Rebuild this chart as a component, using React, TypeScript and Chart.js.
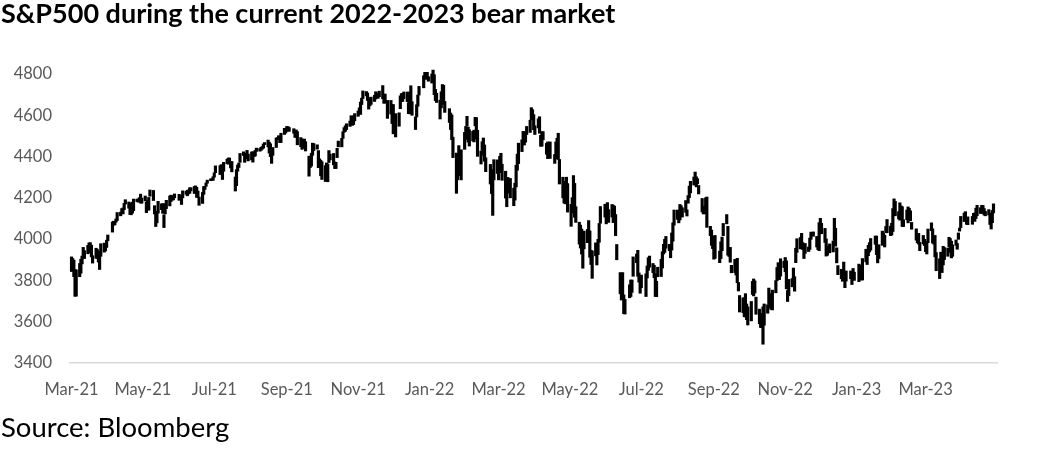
import React, { useEffect, useRef } from "react";
import { Chart, registerables } from "chart.js";

Chart.register(...registerables);

// [day of month, daily low, daily high]
type Bar = [number, number, number];

const mar21: Bar[] = [[1,3843,3914],[2,3868,3906],[3,3818,3898],[4,3723,3853],[5,3724,3851],[8,3818,3882],[9,3835,3903],[10,3880,3918],[11,3906,3960],[12,3906,3944],[15,3929,3970],[16,3950,3982],[17,3934,3983],[18,3914,3971],[19,3884,3920],[22,3907,3956],[23,3907,3950],[24,3889,3942],[25,3853,3919],[26,3917,3978],[29,3937,3981],[30,3943,3969],[31,3960,3995]];
const apr21: Bar[] = [[1,3992,4020],[5,4034,4083],[6,4068,4087],[7,4069,4083],[8,4082,4098],[9,4090,4129],[12,4113,4131],[13,4124,4148],[14,4122,4151],[15,4143,4173],[16,4170,4191],[19,4150,4180],[20,4119,4160],[21,4118,4175],[22,4126,4179],[23,4138,4194],[26,4182,4194],[27,4179,4194],[28,4181,4201],[29,4175,4218],[30,4174,4199]];
const may21: Bar[] = [[3,4185,4209],[4,4128,4179],[5,4163,4187],[6,4140,4202],[7,4208,4238],[10,4187,4236],[11,4122,4162],[12,4061,4135],[13,4079,4131],[14,4126,4183],[17,4143,4171],[18,4125,4172],[19,4056,4118],[20,4122,4172],[21,4148,4188],[24,4161,4209],[25,4182,4213],[26,4189,4203],[27,4190,4211],[28,4200,4219]];
const jun21: Bar[] = [[1,4188,4217],[2,4198,4213],[3,4168,4200],[4,4200,4234],[7,4217,4232],[8,4210,4237],[9,4219,4238],[10,4222,4249],[11,4234,4249],[14,4221,4255],[15,4242,4258],[16,4202,4251],[17,4202,4233],[18,4164,4204],[21,4173,4226],[22,4217,4255],[23,4241,4256],[24,4256,4272],[25,4271,4286],[28,4283,4292],[29,4285,4293],[30,4285,4302]];
const jul21: Bar[] = [[1,4300,4321],[2,4322,4355],[6,4313,4356],[7,4343,4361],[8,4289,4340],[9,4329,4372],[12,4366,4387],[13,4363,4393],[14,4368,4393],[15,4345,4376],[16,4326,4376],[19,4233,4301],[20,4259,4337],[21,4329,4359],[22,4347,4369],[23,4372,4415],[26,4405,4423],[27,4372,4416],[28,4389,4416],[29,4405,4430],[30,4379,4412]];
const aug21: Bar[] = [[2,4384,4422],[3,4373,4424],[4,4400,4417],[5,4403,4430],[6,4425,4441],[9,4426,4439],[10,4430,4445],[11,4436,4449],[12,4441,4461],[13,4458,4468],[16,4447,4480],[17,4417,4470],[18,4400,4462],[19,4367,4418],[20,4406,4444],[23,4444,4490],[24,4482,4492],[25,4488,4501],[26,4468,4499],[27,4468,4513],[30,4507,4537],[31,4514,4531]];
const sep21: Bar[] = [[1,4522,4546],[2,4527,4545],[3,4522,4541],[7,4513,4535],[8,4493,4520],[9,4493,4529],[10,4457,4521],[13,4448,4492],[14,4435,4485],[15,4440,4481],[16,4447,4485],[17,4427,4472],[20,4305,4402],[21,4347,4394],[22,4354,4416],[23,4406,4465],[24,4429,4463],[27,4436,4457],[28,4346,4429],[29,4352,4389],[30,4307,4382]];
const oct21: Bar[] = [[1,4289,4375],[4,4279,4356],[5,4304,4369],[6,4278,4364],[7,4371,4429],[8,4384,4412],[11,4360,4415],[12,4342,4374],[13,4342,4372],[14,4395,4440],[15,4447,4475],[18,4447,4488],[19,4488,4520],[20,4518,4540],[21,4522,4549],[22,4531,4559],[25,4546,4572],[26,4568,4598],[27,4551,4584],[28,4555,4597],[29,4573,4608]];
const nov21: Bar[] = [[1,4595,4621],[2,4608,4636],[3,4604,4664],[4,4652,4683],[5,4681,4718],[8,4694,4715],[9,4672,4708],[10,4630,4685],[11,4646,4664],[12,4653,4688],[15,4667,4697],[16,4679,4714],[17,4684,4701],[18,4682,4708],[19,4690,4717],[22,4680,4744],[23,4658,4701],[24,4659,4703],[26,4585,4672],[29,4606,4672],[30,4560,4652]];
const dec21: Bar[] = [[1,4510,4652],[2,4511,4595],[3,4495,4608],[6,4547,4612],[7,4632,4694],[8,4666,4705],[9,4667,4706],[10,4680,4713],[13,4666,4713],[14,4608,4661],[15,4607,4712],[16,4648,4743],[17,4600,4666],[20,4531,4592],[21,4592,4651],[22,4644,4698],[23,4698,4740],[27,4733,4792],[28,4783,4808],[29,4774,4804],[30,4777,4808],[31,4765,4787]];
const jan22: Bar[] = [[3,4756,4800],[4,4779,4819],[5,4700,4797],[6,4671,4725],[7,4662,4707],[10,4582,4673],[11,4636,4714],[12,4712,4749],[13,4653,4745],[14,4614,4667],[18,4565,4632],[19,4531,4611],[20,4482,4602],[21,4395,4494],[24,4222,4417],[25,4287,4411],[26,4309,4453],[27,4309,4429],[28,4287,4433],[31,4435,4517]];
const feb22: Bar[] = [[1,4483,4546],[2,4548,4595],[3,4470,4543],[4,4451,4530],[7,4476,4522],[8,4471,4528],[9,4549,4590],[10,4485,4589],[11,4401,4527],[14,4364,4427],[15,4430,4472],[16,4406,4490],[17,4377,4456],[18,4327,4394],[22,4267,4362],[23,4221,4337],[24,4115,4294],[25,4287,4385],[28,4318,4384]];
const mar22: Bar[] = [[1,4287,4375],[2,4322,4401],[3,4347,4416],[4,4285,4363],[7,4199,4329],[8,4157,4277],[9,4224,4299],[10,4223,4276],[11,4200,4294],[14,4162,4247],[15,4189,4271],[16,4253,4358],[17,4334,4412],[18,4366,4465],[21,4424,4481],[22,4464,4522],[23,4456,4500],[24,4470,4521],[25,4507,4546],[28,4517,4576],[29,4577,4637],[30,4589,4627],[31,4530,4603]];
const apr22: Bar[] = [[1,4507,4549],[4,4539,4583],[5,4513,4593],[6,4450,4503],[7,4450,4521],[8,4481,4521],[11,4411,4464],[12,4390,4471],[13,4395,4452],[14,4391,4471],[18,4367,4410],[19,4389,4471],[20,4452,4489],[21,4386,4513],[22,4267,4386],[25,4200,4300],[26,4175,4280],[27,4171,4240],[28,4184,4300],[29,4131,4269]];
const may22: Bar[] = [[2,4062,4169],[3,4145,4201],[4,4127,4308],[5,4106,4270],[6,4081,4157],[9,3976,4082],[10,3957,4068],[11,3928,4049],[12,3859,3964],[13,3953,4039],[16,3983,4047],[17,4035,4090],[18,3912,4040],[19,3877,3946],[20,3810,3943],[23,3919,3982],[24,3875,3955],[25,3925,3999],[26,3985,4076],[27,4077,4158],[31,4107,4169]];
const jun22: Bar[] = [[1,4074,4166],[2,4095,4177],[3,4081,4143],[6,4107,4168],[7,4080,4164],[8,4106,4160],[9,4017,4119],[10,3900,3974],[13,3735,3838],[14,3705,3779],[15,3721,3838],[16,3639,3730],[17,3637,3708],[21,3716,3779],[22,3722,3802],[23,3742,3802],[24,3820,3914],[27,3886,3928],[28,3820,3946],[29,3792,3836],[30,3738,3818]];
const jul22: Bar[] = [[1,3765,3826],[5,3722,3832],[6,3812,3870],[7,3849,3910],[8,3864,3918],[11,3838,3882],[12,3813,3873],[13,3722,3833],[14,3721,3796],[15,3818,3864],[18,3819,3902],[19,3860,3939],[20,3928,3975],[21,3936,3999],[22,3956,4013],[25,3944,3975],[26,3910,3960],[27,3947,4030],[28,3990,4079],[29,4068,4141]];
const aug22: Bar[] = [[1,4096,4141],[2,4079,4140],[3,4093,4168],[4,4128,4162],[5,4107,4152],[8,4130,4187],[9,4112,4142],[10,4174,4211],[11,4201,4257],[12,4224,4280],[15,4262,4301],[16,4277,4325],[17,4253,4302],[18,4268,4293],[19,4219,4260],[22,4132,4197],[23,4122,4160],[24,4123,4156],[25,4153,4200],[26,4057,4204],[29,4017,4062],[30,3970,4044],[31,3954,4015]];
const sep22: Bar[] = [[1,3903,3970],[2,3907,4018],[6,3886,3942],[7,3906,3987],[8,3944,4010],[9,4017,4076],[12,4074,4119],[13,3922,4062],[14,3916,3958],[15,3888,3960],[16,3837,3873],[19,3838,3902],[20,3826,3876],[21,3789,3907],[22,3749,3790],[23,3647,3727],[26,3644,3715],[27,3624,3717],[28,3623,3736],[29,3610,3686],[30,3584,3672]];
const oct22: Bar[] = [[3,3604,3698],[4,3732,3795],[5,3725,3807],[6,3739,3798],[7,3636,3719],[10,3590,3661],[11,3572,3640],[12,3571,3607],[13,3491,3672],[14,3583,3686],[17,3641,3682],[18,3683,3763],[19,3666,3716],[20,3659,3736],[21,3657,3753],[24,3740,3799],[25,3799,3863],[26,3830,3886],[27,3804,3860],[28,3821,3905],[31,3862,3893]];
const nov22: Bar[] = [[1,3842,3911],[2,3759,3895],[3,3698,3751],[4,3726,3805],[7,3769,3809],[8,3781,3860],[9,3748,3818],[10,3886,3956],[11,3936,4002],[14,3953,4008],[15,3953,4028],[16,3950,3983],[17,3906,3955],[18,3931,3979],[21,3940,3962],[22,3950,4005],[23,3999,4034],[25,4014,4035],[28,3962,4013],[29,3949,3976],[30,3944,4080]];
const dec22: Bar[] = [[1,4059,4101],[2,4026,4077],[5,3984,4052],[6,3918,4001],[7,3922,3957],[8,3934,3966],[9,3934,3977],[12,3938,3991],[13,3994,4101],[14,3966,4053],[15,3885,3958],[16,3828,3872],[19,3808,3854],[20,3796,3839],[21,3827,3889],[22,3765,3842],[23,3797,3846],[27,3808,3846],[28,3780,3838],[29,3805,3858],[30,3800,3840]];
const jan23: Bar[] = [[3,3794,3879],[4,3814,3873],[5,3802,3840],[6,3802,3906],[9,3890,3951],[10,3877,3919],[11,3920,3970],[12,3938,3983],[13,3947,4003],[17,3975,4015],[18,3925,4015],[19,3885,3922],[20,3906,3973],[23,3970,4039],[24,3989,4028],[25,3962,4019],[26,4031,4061],[27,4031,4095],[30,4017,4063],[31,4020,4077]];
const feb23: Bar[] = [[1,4037,4148],[2,4115,4195],[3,4113,4183],[6,4098,4133],[7,4092,4176],[8,4114,4161],[9,4061,4157],[10,4061,4094],[13,4094,4141],[14,4079,4156],[15,4106,4149],[16,4089,4137],[17,4048,4081],[21,3995,4050],[22,3982,4018],[23,3976,4028],[24,3944,3984],[27,3977,4018],[28,3969,3999]];
const mar23: Bar[] = [[1,3939,3972],[2,3928,3990],[3,3983,4049],[6,4041,4079],[7,3981,4050],[8,3976,4000],[9,3914,4018],[10,3847,3935],[13,3809,3905],[14,3873,3937],[15,3838,3894],[16,3875,3965],[17,3901,3959],[20,3917,3957],[21,3964,4009],[22,3936,4003],[23,3909,3990],[24,3917,3972],[27,3970,3996],[28,3951,3979],[29,3999,4030],[30,4039,4054],[31,4056,4110]];
const apr23: Bar[] = [[3,4085,4126],[4,4090,4133],[5,4072,4099],[6,4070,4108],[10,4072,4110],[11,4106,4125],[12,4086,4127],[13,4100,4150],[14,4114,4164],[17,4124,4152],[18,4134,4164],[19,4124,4163],[20,4117,4148],[21,4113,4135],[24,4117,4143],[25,4071,4127],[26,4049,4089],[27,4080,4139],[28,4127,4171]];

// [year, month index (0 = Jan), bars]
const months: [number, number, Bar[]][] = [
  [2021, 2, mar21], [2021, 3, apr21], [2021, 4, may21], [2021, 5, jun21], [2021, 6, jul21],
  [2021, 7, aug21], [2021, 8, sep21], [2021, 9, oct21], [2021, 10, nov21], [2021, 11, dec21],
  [2022, 0, jan22], [2022, 1, feb22], [2022, 2, mar22], [2022, 3, apr22], [2022, 4, may22],
  [2022, 5, jun22], [2022, 6, jul22], [2022, 7, aug22], [2022, 8, sep22], [2022, 9, oct22],
  [2022, 10, nov22], [2022, 11, dec22], [2023, 0, jan23], [2023, 1, feb23], [2023, 2, mar23],
  [2023, 3, apr23],
];

const xTickLabels = ["Mar-21", "May-21", "Jul-21", "Sep-21", "Nov-21", "Jan-22", "Mar-22", "May-22", "Jul-22", "Sep-22", "Nov-22", "Jan-23", "Mar-23"];
const yMin = 3400;
const yMax = 4800;
const yStep = 200;
const TITLE = "S&P500 during the current 2022-2023 bear market";
const SOURCE = "Source: Bloomberg";

const MONTH_ABBR = ["Jan", "Feb", "Mar", "Apr", "May", "Jun", "Jul", "Aug", "Sep", "Oct", "Nov", "Dec"];
const ORIGIN = Date.UTC(2021, 2, 1);
const dayOffset = (y: number, m: number, d: number) => (Date.UTC(y, m, d) - ORIGIN) / 86400000;
const labelDay = (lab: string) => {
  const [mon, yy] = lab.split("-");
  return dayOffset(2000 + parseInt(yy, 10), MONTH_ABBR.indexOf(mon), 1);
};

const FONT = "Lato, 'Open Sans', sans-serif";

export default function App() {
  const ref = useRef<HTMLCanvasElement | null>(null);

  useEffect(() => {
    if (!ref.current) return;
    const points: { x: number; y: [number, number] }[] = [];
    for (const [yr, mo, rows] of months) {
      for (const [d, lo, hi] of rows) points.push({ x: dayOffset(yr, mo, d), y: [lo, hi] });
    }
    const tickDays = xTickLabels.map(labelDay);

    const chart = new Chart(ref.current, {
      type: "bar",
      data: {
        datasets: [
          {
            data: points as any,
            backgroundColor: "#000000",
            borderWidth: 0,
            borderSkipped: false,
            barThickness: 2.5,
            clip: false as any,
          },
        ],
      },
      options: {
        animation: false,
        responsive: false,
        events: [],
        layout: { padding: { top: 74, right: 67, bottom: 60, left: 0 } },
        plugins: { legend: { display: false }, tooltip: { enabled: false }, title: { display: false } },
        scales: {
          x: {
            type: "linear",
            min: -1.3,
            max: 791,
            offset: false,
            grid: { display: false, drawTicks: false },
            border: { display: true, color: "#d9d9d9", width: 1.5 },
            afterBuildTicks: (s: any) => {
              s.ticks = tickDays.map((v) => ({ value: v }));
            },
            afterFit: (s: any) => {
              s.height = 40;
            },
            ticks: {
              autoSkip: false,
              maxRotation: 0,
              minRotation: 0,
              padding: 17,
              color: "#595959",
              font: { family: FONT, size: 16.5 },
              callback: (_v: any, i: number) => xTickLabels[i],
            },
          },
          y: {
            min: yMin,
            max: yMax,
            grid: { display: false, drawTicks: false },
            border: { display: false },
            afterFit: (s: any) => {
              s.width = 70;
            },
            ticks: {
              stepSize: yStep,
              padding: 18,
              color: "#595959",
              font: { family: FONT, size: 16.5 },
              callback: (v: any) => String(v),
            },
          },
        },
      },
    });
    return () => chart.destroy();
  }, []);

  return (
    <div style={{ position: "fixed", left: 0, top: 0, width: 1064, height: 463, background: "#fff", overflow: "hidden" }}>
      <canvas ref={ref} width={1064} height={463} style={{ position: "absolute", left: 0, top: 0, width: 1064, height: 463 }} />
      <div
        style={{
          position: "absolute",
          left: 1,
          top: -1,
          fontFamily: FONT,
          fontWeight: 700,
          fontSize: 27,
          lineHeight: "27px",
          color: "#000",
          whiteSpace: "nowrap",
        }}
      >
        {TITLE}
      </div>
      <div
        style={{
          position: "absolute",
          left: 1,
          top: 413,
          fontFamily: FONT,
          fontSize: 27.5,
          lineHeight: "27.5px",
          color: "#000",
          whiteSpace: "nowrap",
        }}
      >
        {SOURCE}
      </div>
    </div>
  );
}
